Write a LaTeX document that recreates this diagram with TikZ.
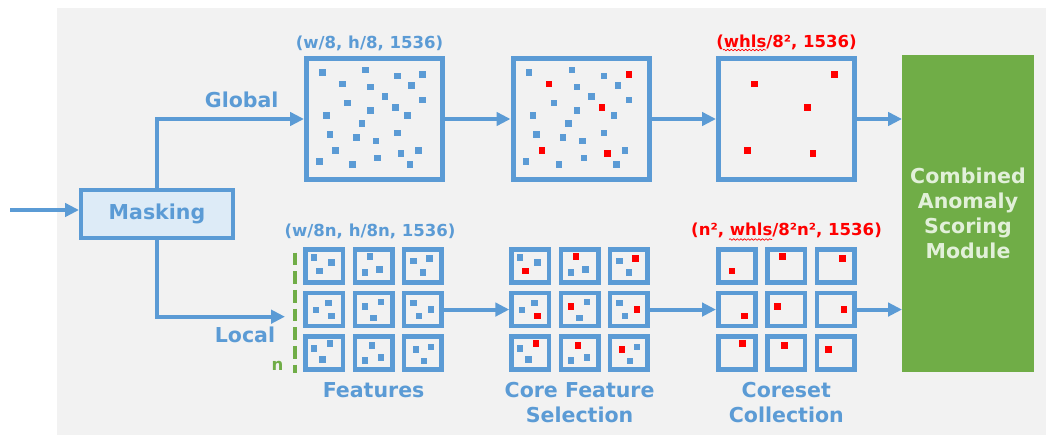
\documentclass[tikz,border=0pt]{standalone}
\usepackage{fontspec}
\setmainfont{DejaVu Sans}
\usepackage{tikz}
\usetikzlibrary{arrows.meta,decorations.pathmorphing}

% dots inside a global feature map, measured from its top left corner
\newcommand{\glbblue}{18.7/16, 61.7/13.3, 93.3/19.7, 66.7/30.7, 107.7/29, 81/40, 43.7/46.3, 118.3/43.3, 22.7/59, 66.7/54, 103.7/59, 58/67, 26/78, 52.7/81, 72/84.3, 93.3/76.3, 114.7/94, 15.3/105, 48.7/108, 73.7/101.7, 106/108}
\newcommand{\glbred}{118.3/18, 38.3/27.3, 91.7/51, 31.3/94, 97/97}
% local patches: column/row/core dot/two other dots
\newcommand{\lclcells}{0/0/16/23.7/10.7/10.3/28.3/15.3, 1/0/17.3/9.3/12.3/25/26.7/22, 2/0/27.7/11/11.7/13.7/21/25, 0/1/28.3/25/25/12.3/12.7/19, 1/1/12.3/15.7/28.3/11/21/27, 2/1/29.3/18.7/11.7/12.3/17.3/25.3, 0/2/26.7/9.3/10.7/14/19.3/25, 1/2/19.3/11/12.3/26.3/28.3/23.3, 2/2/14/15.3/29.3/12.7/22.3/26.7}

\begin{document}
\begin{tikzpicture}[x=0.75pt,y=0.75pt,yscale=-1,xscale=1,
    blu/.style={color={rgb, 255:red, 91; green, 155; blue, 213 }},
    rd/.style={color={rgb, 255:red, 255; green, 0; blue, 0 }},
    grn/.style={color={rgb, 255:red, 112; green, 173; blue, 71 }},
    bigtxt/.style={font=\fontsize{15.4}{18.75}\selectfont\bfseries, inner sep=0pt},
    smltxt/.style={font=\fontsize{12.4}{15}\selectfont\bfseries, inner sep=0pt},
    arw/.style={blu, line width=3pt, -{Triangle[length=10.5pt,width=10pt]}},
    gbox/.style={blu, draw, line width=3.75pt, minimum width=102pt, minimum height=90pt, inner sep=0pt},
    cell/.style={blu, draw, line width=3.4pt, minimum width=28.1pt, minimum height=24.75pt, inner sep=0pt},
    dotb/.style={blu},
    dotr/.style={rd},
    squig/.style={rd, line width=0.5pt, decorate, decoration={snake, amplitude=0.6pt, segment length=2.7pt}}
  ]
  \useasboundingbox (0,0) rectangle (1046,435);
  %Shape: Background
  \fill [fill={rgb, 255:red, 242; green, 242; blue, 242 }] (57,8) rectangle (1046,435);

  %Masking
  \coordinate (inp) at (10,210);
  \node [blu, draw, fill={rgb, 255:red, 221; green, 235; blue, 247 }, line width=3pt, minimum width=114pt, minimum height=36pt, bigtxt] (masking) at (157,214) {Masking};
  \draw [arw] (inp) -- (masking.west |- inp);

  %Global feature maps
  \node [gbox] (glb1) at (374.5,119) {};
  \node [gbox] (glb2) at (581,119) {};
  \node [gbox] (glb3) at (786.5,119) {};
  \begin{scope}[shift={(304,56.5)}]
    \foreach \x/\y in \glbblue {\fill [dotb] (\x-3.25,\y-3.25) rectangle ++(6.5,6.5);}
    \foreach \x/\y in \glbred {\fill [dotb] (\x-3.25,\y-3.25) rectangle ++(6.5,6.5);}
  \end{scope}
  \begin{scope}[shift={(510.5,56.5)}]
    \foreach \x/\y in \glbblue {\fill [dotb] (\x-3.25,\y-3.25) rectangle ++(6.5,6.5);}
    \foreach \x/\y in \glbred {\fill [dotr] (\x-3.25,\y-3.25) rectangle ++(6.5,6.5);}
  \end{scope}
  \begin{scope}[shift={(716,56.5)}]
    \foreach \x/\y in \glbred {\fill [dotr] (\x-3.25,\y-3.25) rectangle ++(6.5,6.5);}
  \end{scope}

  %Local patches: features
  \foreach \c/\r/\ax/\ay/\bx/\by/\cx/\cy in \lclcells {
    \node [cell] (ft-\r-\c) at (324.3+49.3*\c,266.05+43.5*\r) {};
    \fill [dotb] (303.3+49.3*\c+\ax-3.25,247.3+43.5*\r+\ay-3.25) rectangle ++(6.5,6.5);
    \fill [dotb] (303.3+49.3*\c+\bx-3.25,247.3+43.5*\r+\by-3.25) rectangle ++(6.5,6.5);
    \fill [dotb] (303.3+49.3*\c+\cx-3.25,247.3+43.5*\r+\cy-3.25) rectangle ++(6.5,6.5);
  }
  %Local patches: core feature selection
  \foreach \c/\r/\ax/\ay/\bx/\by/\cx/\cy in \lclcells {
    \node [cell] (cfs-\r-\c) at (530.3+49.3*\c,266.05+43.5*\r) {};
    \fill [dotr] (509.3+49.3*\c+\ax-3.25,247.3+43.5*\r+\ay-3.25) rectangle ++(6.5,6.5);
    \fill [dotb] (509.3+49.3*\c+\bx-3.25,247.3+43.5*\r+\by-3.25) rectangle ++(6.5,6.5);
    \fill [dotb] (509.3+49.3*\c+\cx-3.25,247.3+43.5*\r+\cy-3.25) rectangle ++(6.5,6.5);
  }
  %Local patches: coreset collection
  \foreach \c/\r/\ax/\ay/\bx/\by/\cx/\cy in \lclcells {
    \node [cell] (crs-\r-\c) at (737+49.3*\c,266.05+43.5*\r) {};
    \fill [dotr] (716+49.3*\c+\ax-3.25,247.3+43.5*\r+\ay-3.25) rectangle ++(6.5,6.5);
  }

  %Scoring module
  \node [fill={rgb, 255:red, 112; green, 173; blue, 71 }, minimum width=98.55pt, minimum height=237.75pt, align=center, bigtxt, text={rgb, 255:red, 226; green, 240; blue, 217 }] (cams) at (968,213.8) {Combined\\Anomaly\\Scoring\\Module};

  %Arrows
  \coordinate (lcl) at (285,316.7);
  \draw [arw] (masking.north) |- (glb1.west);
  \draw [arw] (masking.south) |- (lcl);
  \draw [arw] (glb1.east) -- (glb2.west);
  \draw [arw] (glb2.east) -- (glb3.west);
  \draw [arw] (glb3.east) -- (glb3.east -| cams.west);
  \draw [arw] (ft-1-2.east) -- (cfs-1-0.west);
  \draw [arw] (cfs-1-2.east) -- (crs-1-0.west);
  \draw [arw] (crs-1-2.east) -- (crs-1-2.east -| cams.west);

  %Patch count
  \draw [grn, line width=3.4pt, dash pattern=on 9.5pt off 4.5pt] (295,252.5) -- (295,373);
  % Text Node
  \node [smltxt, grn] (ntxt) at (277.5,366) {n};

  % Text Node
  \node [bigtxt, blu] (glbtxt) at (241.7,99.5) {Global};
  % Text Node
  \node [bigtxt, blu] (lcltxt) at (245,335) {Local};
  % Text Node
  \node [smltxt, blu] (glbdim) at (369.5,43.5) {(w/8, h/8, 1536)};
  % Text Node
  \node [smltxt, rd] (crsdim) at (786.5,42.5) {(whls/8², 1536)};
  \draw [squig] (723,50) -- (766,50);
  % Text Node
  \node [smltxt, blu] (lcldim) at (370,231.5) {(w/8n, h/8n, 1536)};
  % Text Node
  \node [smltxt, rd] (crslcldim) at (786.5,230.5) {(n², whls/8²n², 1536)};
  \draw [squig] (729,239.5) -- (772,239.5);
  % Text Node
  \node [bigtxt, blu] (fttxt) at (373.6,390) {Features};
  % Text Node
  \node [bigtxt, blu, align=center] (cfstxt) at (579.6,402.5) {Core Feature\\Selection};
  % Text Node
  \node [bigtxt, blu, align=center] (crstxt) at (786.3,402.5) {Coreset\\Collection};
\end{tikzpicture}
\end{document}
